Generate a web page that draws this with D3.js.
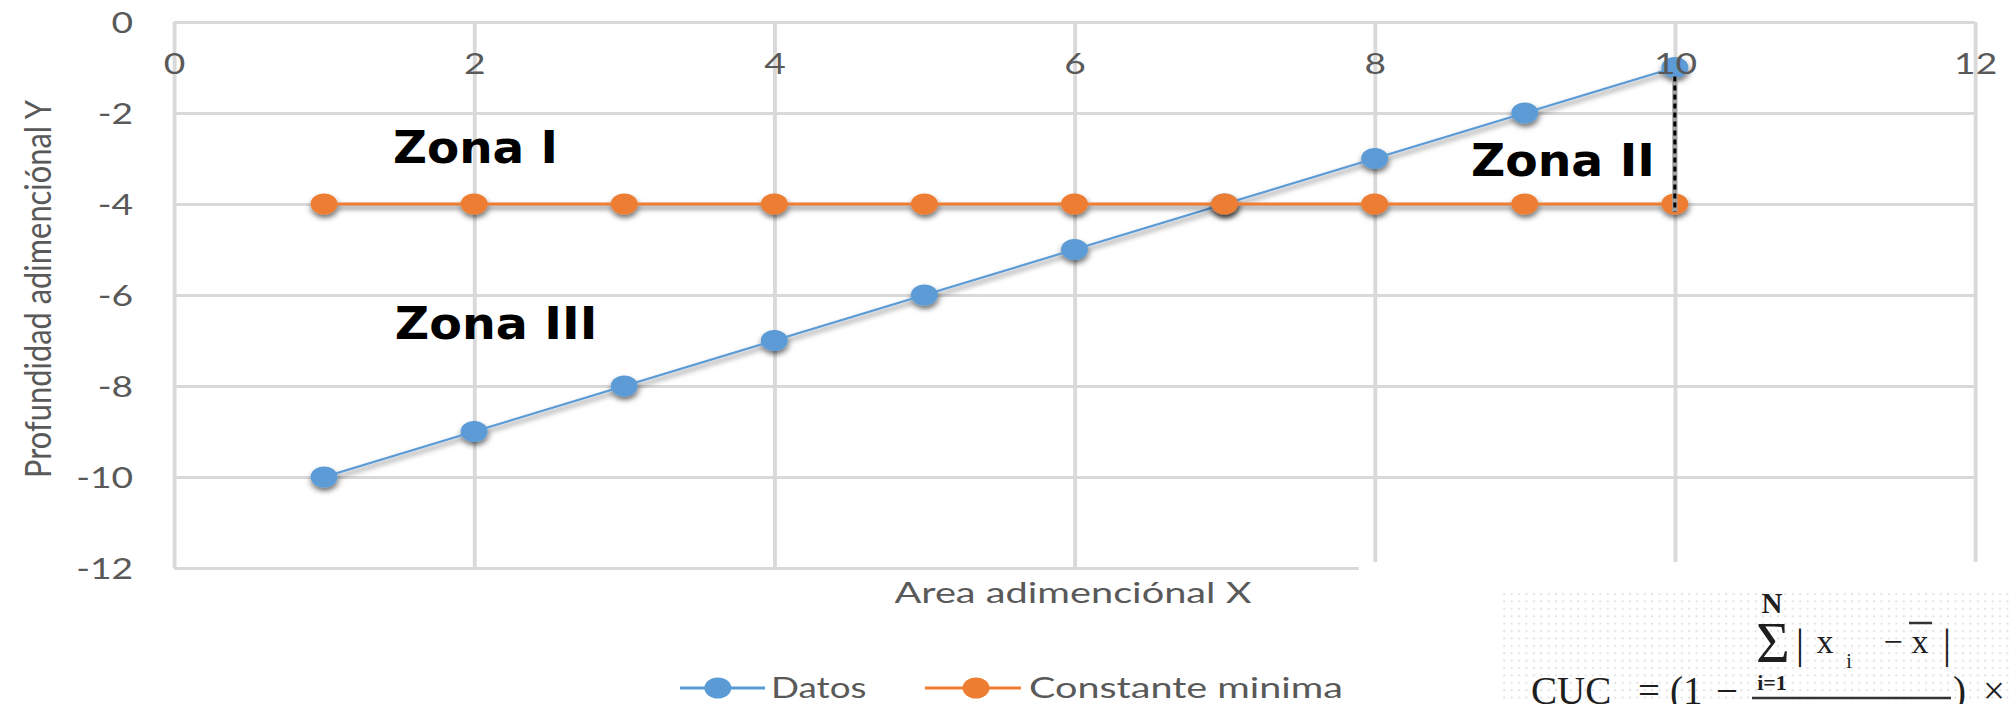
<!DOCTYPE html>
<html><head><meta charset="utf-8">
<script src="https://cdn.jsdelivr.net/npm/d3@7"></script>
<style>html,body{margin:0;padding:0;background:#fff;overflow:hidden}</style>
</head><body>
<script>
// ---- data ----
const xValues = [1, 2, 3, 4, 5, 6, 7, 8, 9, 10];
const datosValues = [-10, -9, -8, -7, -6, -5, -4, -3, -2, -1];
const constanteValues = [-4, -4, -4, -4, -4, -4, -4, -4, -4, -4];
const xTickValues = [0, 2, 4, 6, 8, 10, 12];
const yTickValues = [0, -2, -4, -6, -8, -10, -12];
const seriesNames = ["Datos", "Constante minima"];
const seriesColors = ["#5B9BD5", "#ED7D31"];
const zoneNames = ["Zona I", "Zona II", "Zona III"];
const xTitle = "Area adimenciónal X";
const yTitle = "Profundidad adimenciónal Y";

const W = 2010, H = 704, K = W / 1568;
const svg = d3.select("body").append("svg").attr("width", W).attr("height", H);
const defs = svg.append("defs");
const f = defs.append("filter").attr("id", "shadow").attr("filterUnits", "userSpaceOnUse")
  .attr("x", 0).attr("y", 0).attr("width", 1568).attr("height", 704);
f.append("feDropShadow").attr("dx", 0.5).attr("dy", 3.5).attr("stdDeviation", 2.6)
  .attr("flood-color", "#000").attr("flood-opacity", 0.55);
const pat = defs.append("pattern").attr("id", "dots").attr("patternUnits", "userSpaceOnUse")
  .attr("width", 7.4).attr("height", 7.4);
pat.append("circle").attr("cx", 2).attr("cy", 2).attr("r", 1.1).attr("fill", "#e2e2e2");

const g = svg.append("g").attr("transform", `scale(${K},1)`);
const x = d3.scaleLinear().domain([0, 12]).range([135.7, 1540.7]);
const y = d3.scaleLinear().domain([0, -12]).range([22, 568]);
const grid = "#D9D9D9", txt = "#595959";
const labelFont = "Lato, 'Open Sans', sans-serif";

// gridlines
const vg = g.append("g").attr("transform", `translate(0,${y(-12)})`)
  .call(d3.axisBottom(x).tickValues(xTickValues).tickSize(-(y(-12) - y(0))).tickFormat(""));
vg.select(".domain").remove();
vg.selectAll("line").attr("stroke", grid).attr("stroke-width", 3);
const hg = g.append("g").attr("transform", `translate(${x(0)},0)`)
  .call(d3.axisLeft(y).tickValues(yTickValues).tickSize(-(x(12) - x(0))).tickFormat(""));
hg.select(".domain").remove();
hg.selectAll("line").attr("stroke", grid).attr("stroke-width", 3);

// series
const line = d3.line().x(d => x(d[0])).y(d => y(d[1]));
[datosValues, constanteValues].forEach((vals, i) => {
  const pts = xValues.map((xv, j) => [xv, vals[j]]);
  const sg = g.append("g").attr("filter", "url(#shadow)");
  sg.append("path").datum(pts).attr("d", line).attr("fill", "none")
    .attr("stroke", seriesColors[i]).attr("stroke-width", i === 0 ? 2.1 : 3);
  sg.selectAll("circle").data(pts).join("circle")
    .attr("cx", d => x(d[0])).attr("cy", d => y(d[1])).attr("r", 10.5)
    .attr("fill", seriesColors[i]);
});

// tick labels
const xa = g.append("g").attr("transform", `translate(0,${y(0)})`)
  .call(d3.axisBottom(x).tickValues(xTickValues).tickSize(0).tickFormat(d => String(d)));
xa.select(".domain").remove();
xa.selectAll("text").attr("y", 52).attr("dy", null).attr("fill", txt)
  .attr("font-family", labelFont).attr("font-size", 29);
const ya = g.append("g").attr("transform", `translate(${x(0)},0)`)
  .call(d3.axisLeft(y).tickValues(yTickValues).tickSize(0).tickFormat(d => String(d)));
ya.select(".domain").remove();
ya.selectAll("text").attr("x", -31.9).attr("dy", "0.36em").attr("fill", txt)
  .attr("font-family", labelFont).attr("font-size", 29);

// axis titles
g.append("text").attr("x", 837).attr("y", 603).attr("text-anchor", "middle")
  .attr("font-family", labelFont).attr("font-size", 29).attr("fill", txt)
  .attr("textLength", 278.5).attr("lengthAdjust", "spacingAndGlyphs").text(xTitle);
g.append("text").attr("transform", `translate(39.8,${(y(0) + y(-12)) / 2 - 6}) rotate(-90)`)
  .attr("text-anchor", "middle").attr("font-family", labelFont).attr("font-size", 29)
  .attr("fill", txt).attr("textLength", 378).attr("lengthAdjust", "spacingAndGlyphs").text(yTitle);

// zone labels
const zonePos = [[306.6, 163, 128.7], [1147.5, 176, 143.5], [308, 339, 158]];
zoneNames.forEach((n, i) => {
  g.append("text").attr("x", zonePos[i][0]).attr("y", zonePos[i][1])
    .attr("font-family", "'DejaVu Sans', Verdana, sans-serif").attr("font-weight", "bold")
    .attr("font-size", 45).attr("fill", "#000")
    .attr("textLength", zonePos[i][2]).attr("lengthAdjust", "spacingAndGlyphs").text(n);
});

// dotted connector at x = 10
const last = xValues.length - 1;
g.append("line").attr("x1", x(xValues[last])).attr("x2", x(xValues[last]))
  .attr("y1", y(datosValues[last]) + 9).attr("y2", y(constanteValues[last]) + 8)
  .attr("stroke", "#a0a0a0").attr("stroke-width", 4);
g.append("line").attr("x1", x(xValues[last])).attr("x2", x(xValues[last]))
  .attr("y1", y(datosValues[last]) + 9).attr("y2", y(constanteValues[last]) + 8)
  .attr("stroke", "#000").attr("stroke-width", 2.4).attr("stroke-dasharray", "5 4");

// white patch (pasted formula area)
g.append("rect").attr("x", 1060).attr("y", 562).attr("width", 520).attr("height", 150).attr("fill", "#fff");

// legend
const legItems = [
  {l1: 530.5, l2: 596.8, m: 560, t: 601.5, tl: 74.5},
  {l1: 721.6, l2: 796.5, m: 761.4, t: 802.7, tl: 245}
];
seriesNames.forEach((n, i) => {
  const p = legItems[i];
  g.append("line").attr("x1", p.l1).attr("x2", p.l2).attr("y1", 688).attr("y2", 688)
    .attr("stroke", seriesColors[i]).attr("stroke-width", 3);
  g.append("circle").attr("cx", p.m).attr("cy", 688).attr("r", 10.5).attr("fill", seriesColors[i]);
  g.append("text").attr("x", p.t).attr("y", 698).attr("font-family", labelFont)
    .attr("font-size", 29).attr("fill", txt)
    .attr("textLength", p.tl).attr("lengthAdjust", "spacingAndGlyphs").text(n);
});

// formula (unscaled)
const fg = svg.append("g").attr("fill", "#1e1e1e").attr("font-family", "'Liberation Serif', 'Times New Roman', serif");
fg.append("rect").attr("x", 1500).attr("y", 592).attr("width", 510).attr("height", 112).attr("fill", "url(#dots)");
const ft = (s, xx, yy, fs, opts = {}) => {
  const t = fg.append("text").attr("x", xx).attr("y", yy).attr("font-size", fs).text(s);
  if (opts.anchor) t.attr("text-anchor", opts.anchor);
  if (opts.bold) t.attr("font-weight", "bold");
  return t;
};
ft("N", 1772, 613, 29, {anchor: "middle", bold: true});
ft("Σ", 1773, 662, 58, {anchor: "middle"});
ft("|", 1800, 658, 42, {anchor: "middle"});
ft("x", 1825, 653, 34, {anchor: "middle"});
ft("i", 1849, 668, 20, {anchor: "middle"});
ft("−", 1893, 653, 34, {anchor: "middle"});
ft("x", 1920, 653, 34, {anchor: "middle"});
fg.append("line").attr("x1", 1909).attr("x2", 1932).attr("y1", 623).attr("y2", 623).attr("stroke", "#333").attr("stroke-width", 2.5);
ft("|", 1947, 658, 42, {anchor: "middle"});
ft("i=1", 1772, 690, 22, {anchor: "middle", bold: true});
fg.append("line").attr("x1", 1752).attr("x2", 1951).attr("y1", 698).attr("y2", 698).attr("stroke", "#333").attr("stroke-width", 2.5);
ft("CUC", 1531, 704, 39);
ft("=", 1649, 704, 39, {anchor: "middle"});
ft("(1", 1670, 704, 39);
ft("−", 1727, 704, 39, {anchor: "middle"});
ft(")", 1953, 704, 39);
ft("×", 1983, 704, 39);
</script>
</body></html>
